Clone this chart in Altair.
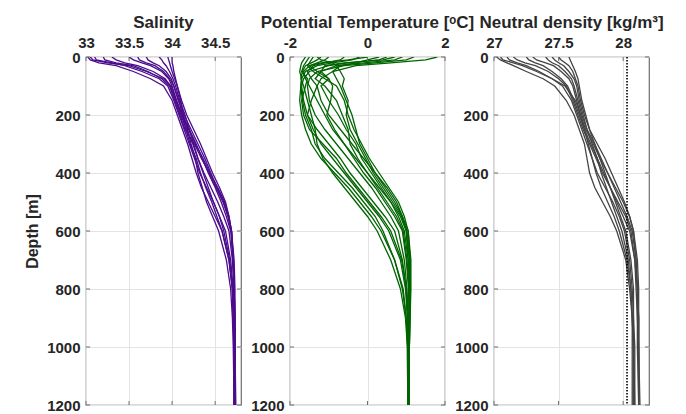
import altair as alt
import pandas as pd

# Depth levels (m) shared by all profiles
depths = [0, 10, 20, 30, 50, 75, 100, 150, 200, 250, 300, 350, 400, 450, 500,
          550, 600, 700, 800, 900, 1000, 1200]

# Salinity profiles
salinity_profiles = [
    [33.02, 33.05, 33.15, 33.35, 33.55, 33.75, 33.90, 34.00, 34.06, 34.12, 34.18, 34.23, 34.28, 34.34, 34.42, 34.50, 34.58, 34.66, 34.70, 34.71, 34.72, 34.72],
    [33.10, 33.12, 33.30, 33.45, 33.65, 33.85, 33.95, 34.02, 34.08, 34.14, 34.20, 34.26, 34.32, 34.40, 34.48, 34.55, 34.62, 34.68, 34.71, 34.72, 34.72, 34.73],
    [33.30, 33.35, 33.45, 33.60, 33.78, 33.92, 33.98, 34.04, 34.10, 34.17, 34.24, 34.30, 34.37, 34.45, 34.53, 34.60, 34.66, 34.70, 34.72, 34.73, 34.73, 34.73],
    [33.50, 33.55, 33.65, 33.75, 33.88, 33.96, 34.00, 34.05, 34.12, 34.20, 34.28, 34.35, 34.42, 34.50, 34.57, 34.63, 34.68, 34.71, 34.72, 34.72, 34.73, 34.73],
    [33.70, 33.72, 33.78, 33.85, 33.93, 33.99, 34.02, 34.07, 34.14, 34.22, 34.30, 34.38, 34.45, 34.52, 34.60, 34.65, 34.69, 34.72, 34.73, 34.73, 34.73, 34.74],
    [33.85, 33.88, 33.90, 33.93, 33.97, 34.01, 34.04, 34.09, 34.15, 34.20, 34.25, 34.30, 34.36, 34.42, 34.48, 34.55, 34.60, 34.67, 34.70, 34.71, 34.72, 34.72],
    [33.95, 33.96, 33.97, 33.98, 34.00, 34.03, 34.06, 34.11, 34.17, 34.25, 34.33, 34.40, 34.47, 34.55, 34.62, 34.66, 34.69, 34.71, 34.72, 34.73, 34.73, 34.73],
    [34.00, 34.00, 34.00, 34.01, 34.02, 34.04, 34.06, 34.10, 34.13, 34.18, 34.22, 34.27, 34.30, 34.35, 34.40, 34.47, 34.54, 34.63, 34.68, 34.70, 34.71, 34.72],
    [33.20, 33.22, 33.35, 33.55, 33.72, 33.88, 33.97, 34.03, 34.09, 34.15, 34.26, 34.34, 34.43, 34.51, 34.59, 34.65, 34.69, 34.71, 34.72, 34.72, 34.73, 34.73],
    [33.05, 33.08, 33.25, 33.50, 33.70, 33.90, 33.99, 34.05, 34.11, 34.19, 34.27, 34.36, 34.44, 34.53, 34.61, 34.66, 34.69, 34.71, 34.72, 34.73, 34.73, 34.73],
    [33.60, 33.62, 33.70, 33.80, 33.90, 33.97, 34.02, 34.08, 34.12, 34.16, 34.21, 34.28, 34.33, 34.39, 34.46, 34.52, 34.58, 34.66, 34.70, 34.71, 34.72, 34.72],
]

# Potential temperature profiles (deg C)
temperature_profiles = [
    [1.80, 1.50, 0.60, -0.30, -0.90, -1.20, -1.30, -1.20, -1.00, -0.70, -0.40, -0.10, 0.20, 0.50, 0.75, 0.90, 1.00, 1.05, 1.08, 1.08, 1.07, 1.06],
    [1.20, 1.00, 0.20, -0.60, -1.30, -1.50, -1.55, -1.50, -1.35, -1.10, -0.80, -0.50, -0.20, 0.10, 0.35, 0.60, 0.80, 0.95, 1.02, 1.05, 1.06, 1.05],
    [0.50, 0.30, -0.50, -1.00, -1.50, -1.65, -1.70, -1.65, -1.55, -1.40, -1.20, -0.90, -0.60, -0.30, 0.00, 0.30, 0.55, 0.85, 0.98, 1.03, 1.05, 1.05],
    [-0.20, -0.40, -0.90, -1.30, -1.60, -1.70, -1.72, -1.68, -1.60, -1.45, -1.35, -1.10, -0.75, -0.40, -0.10, 0.20, 0.40, 0.70, 0.90, 1.00, 1.04, 1.05],
    [-1.00, -1.10, -1.30, -1.50, -1.65, -1.60, -1.50, -1.30, -1.10, -0.90, -0.60, -0.35, -0.10, 0.20, 0.45, 0.70, 0.90, 1.00, 1.06, 1.07, 1.07, 1.06],
    [-1.40, -1.45, -1.50, -1.55, -1.40, -1.10, -0.80, -0.60, -0.50, -0.35, -0.15, 0.05, 0.30, 0.55, 0.80, 0.95, 1.05, 1.10, 1.10, 1.09, 1.08, 1.07],
    [0.90, 0.70, -0.10, -0.80, -1.20, -1.00, -0.90, -0.95, -1.05, -0.85, -0.60, -0.30, 0.00, 0.30, 0.60, 0.80, 0.95, 1.05, 1.08, 1.08, 1.07, 1.06],
    [-0.60, -0.70, -1.10, -1.40, -1.55, -1.45, -1.30, -1.45, -1.55, -1.30, -1.00, -0.70, -0.45, -0.15, 0.15, 0.45, 0.70, 0.90, 1.00, 1.04, 1.05, 1.05],
    [0.30, 0.00, -0.30, -0.70, -0.90, -0.80, -0.70, -0.55, -0.40, -0.30, -0.20, 0.00, 0.20, 0.45, 0.70, 0.90, 1.05, 1.12, 1.12, 1.10, 1.08, 1.07],
    [-1.20, -1.30, -1.45, -1.60, -1.68, -1.72, -1.65, -1.55, -1.45, -1.35, -1.30, -1.15, -0.90, -0.60, -0.30, 0.00, 0.25, 0.60, 0.85, 0.98, 1.03, 1.04],
    [0.00, -0.50, -1.20, -1.50, -1.30, -1.00, -1.20, -1.00, -0.75, -0.55, -0.30, -0.15, 0.10, 0.35, 0.60, 0.85, 1.00, 1.08, 1.10, 1.09, 1.08, 1.07],
    [-1.50, -1.55, -1.60, -1.65, -1.70, -1.55, -1.60, -1.70, -1.65, -1.50, -1.15, -0.80, -0.55, -0.25, 0.05, 0.35, 0.60, 0.88, 1.00, 1.04, 1.05, 1.05],
    [0.70, 0.40, -0.60, -1.10, -1.20, -1.35, -1.10, -0.80, -0.65, -0.50, -0.45, -0.25, 0.00, 0.25, 0.50, 0.75, 0.92, 1.02, 1.07, 1.08, 1.07, 1.06],
    [-1.30, -1.20, -0.90, -0.80, -0.70, -0.60, -0.65, -0.50, -0.55, -0.45, -0.25, -0.05, 0.15, 0.40, 0.65, 0.88, 1.02, 1.10, 1.10, 1.09, 1.08, 1.07],
    [-1.60, -1.65, -1.70, -1.72, -1.75, -1.70, -1.72, -1.75, -1.70, -1.60, -1.45, -1.20, -0.85, -0.50, -0.20, 0.10, 0.35, 0.70, 0.92, 1.00, 1.03, 1.04],
]

# Neutral density profiles (kg/m^3)
density_profiles = [
    [27.02, 27.05, 27.10, 27.15, 27.25, 27.38, 27.47, 27.56, 27.62, 27.66, 27.70, 27.72, 27.74, 27.78, 27.84, 27.90, 27.95, 28.02, 28.05, 28.07, 28.08, 28.09],
    [27.10, 27.12, 27.18, 27.25, 27.35, 27.45, 27.53, 27.60, 27.64, 27.68, 27.72, 27.76, 27.80, 27.86, 27.92, 27.97, 28.01, 28.05, 28.07, 28.08, 28.08, 28.08],
    [27.25, 27.27, 27.32, 27.38, 27.45, 27.52, 27.57, 27.62, 27.66, 27.70, 27.75, 27.80, 27.85, 27.90, 27.96, 28.02, 28.06, 28.09, 28.10, 28.11, 28.11, 28.12],
    [27.40, 27.42, 27.45, 27.50, 27.55, 27.60, 27.62, 27.65, 27.68, 27.72, 27.78, 27.83, 27.88, 27.93, 27.98, 28.03, 28.07, 28.10, 28.11, 28.12, 28.12, 28.12],
    [27.50, 27.52, 27.55, 27.58, 27.61, 27.63, 27.65, 27.67, 27.70, 27.74, 27.80, 27.86, 27.91, 27.96, 28.01, 28.05, 28.08, 28.10, 28.11, 28.11, 28.12, 28.12],
    [27.58, 27.59, 27.60, 27.61, 27.63, 27.65, 27.66, 27.68, 27.71, 27.74, 27.78, 27.82, 27.86, 27.90, 27.94, 27.98, 28.02, 28.06, 28.08, 28.08, 28.09, 28.09],
    [27.30, 27.33, 27.40, 27.46, 27.52, 27.58, 27.61, 27.64, 27.67, 27.70, 27.73, 27.76, 27.79, 27.83, 27.88, 27.93, 27.97, 28.03, 28.06, 28.07, 28.08, 28.08],
    [27.15, 27.18, 27.24, 27.32, 27.42, 27.50, 27.56, 27.61, 27.65, 27.69, 27.74, 27.79, 27.84, 27.90, 27.95, 28.00, 28.05, 28.09, 28.11, 28.12, 28.12, 28.12],
    [27.05, 27.07, 27.15, 27.22, 27.33, 27.45, 27.55, 27.63, 27.67, 27.71, 27.77, 27.82, 27.88, 27.94, 28.00, 28.05, 28.08, 28.11, 28.12, 28.12, 28.12, 28.13],
    [27.45, 27.47, 27.50, 27.54, 27.58, 27.62, 27.64, 27.66, 27.69, 27.72, 27.76, 27.80, 27.83, 27.87, 27.91, 27.95, 27.99, 28.04, 28.06, 28.07, 28.07, 28.07],
]

density_reference = 28.03

salinity_ticks = [33, 33.5, 34, 34.5]
temperature_ticks = [-2, 0, 2]
density_ticks = [27, 27.5, 28]
depth_ticks = [0, 200, 400, 600, 800, 1000, 1200]

FONT = "Liberation Sans"
W, H = 155, 348
TICK = 4
FRAME = "#6e6e6e"


def to_frame(profiles):
    rows = []
    for i, prof in enumerate(profiles):
        for d, v in zip(depths, prof):
            rows.append({"profile": i, "depth": d, "value": v})
    return pd.DataFrame(rows)


def panel(profiles, color, domain, ticks, title, show_ytitle, extra=None):
    df = to_frame(profiles)
    xscale = alt.Scale(domain=domain, nice=False, zero=False)
    yscale = alt.Scale(domain=[0, 1200], reverse=True, nice=False)
    x = alt.X("value:Q", scale=xscale,
              axis=alt.Axis(orient="top", values=ticks, title=None,
                            labelExpr="'' + datum.value", ticks=False,
                            labelPadding=7, domain=False, labelFlush=False))
    y = alt.Y("depth:Q", scale=yscale,
              axis=alt.Axis(values=depth_ticks, ticks=False, labelPadding=6,
                            domain=False, labelExpr="'' + datum.value",
                            title="Depth [m]" if show_ytitle else None,
                            titlePadding=6))
    lines = alt.Chart(df).mark_line(color=color, strokeWidth=1.3,
                                    clip=True).encode(
        x=x, y=y, detail="profile:N", order="depth:Q")

    xt = pd.DataFrame({"value": ticks})
    yt = pd.DataFrame({"depth": depth_ticks})
    tick_style = dict(color=FRAME, strokeWidth=1)
    top_ticks = alt.Chart(xt).mark_rule(**tick_style).encode(
        x=x, y=alt.value(0), y2=alt.value(TICK))
    bottom_ticks = alt.Chart(xt).mark_rule(**tick_style).encode(
        x=x, y=alt.value(H - TICK), y2=alt.value(H))
    left_ticks = alt.Chart(yt).mark_rule(**tick_style).encode(
        y=y, x=alt.value(0), x2=alt.value(TICK))
    right_ticks = alt.Chart(yt).mark_rule(**tick_style).encode(
        y=y, x=alt.value(W - TICK), x2=alt.value(W))

    layers = [lines]
    if extra is not None:
        layers.append(extra)
    layers += [top_ticks, bottom_ticks, left_ticks, right_ticks]
    return alt.layer(*layers).properties(
        width=W, height=H,
        title=alt.TitleParams(title, fontSize=17, font=FONT,
                              fontWeight="bold", color="#262626",
                              anchor="middle", offset=3))


dotted = alt.Chart(pd.DataFrame({"value": [density_reference]})).mark_rule(
    color="black", strokeDash=[1.5, 1.5], strokeWidth=1.6).encode(
    x=alt.X("value:Q"))

p1 = panel(salinity_profiles, "#4B0C8C", [33, 34.8], salinity_ticks,
           "Salinity", True)
p2 = panel(temperature_profiles, "#006400", [-2, 2], temperature_ticks,
           "Potential Temperature [ᵒC]", False)
p3 = panel(density_profiles, "#444444", [27, 28.2], density_ticks,
           "Neutral density [kg/m³]", False, extra=dotted)

chart = alt.hconcat(p1, p2, p3, spacing=49, bounds="flush").properties(
    padding={"left": 16, "top": 5, "right": 5, "bottom": 5}
).configure_axis(
    labelFont=FONT, labelFontSize=15, labelFontWeight="bold",
    labelColor="#262626", titleFont=FONT, titleFontSize=16,
    titleFontWeight="bold", titleColor="#262626",
    gridColor="#e3e3e3", gridWidth=1
).configure_view(stroke=FRAME, strokeWidth=1.2)

chart.save("out.html", embed_options={"renderer": "svg", "actions": False})
